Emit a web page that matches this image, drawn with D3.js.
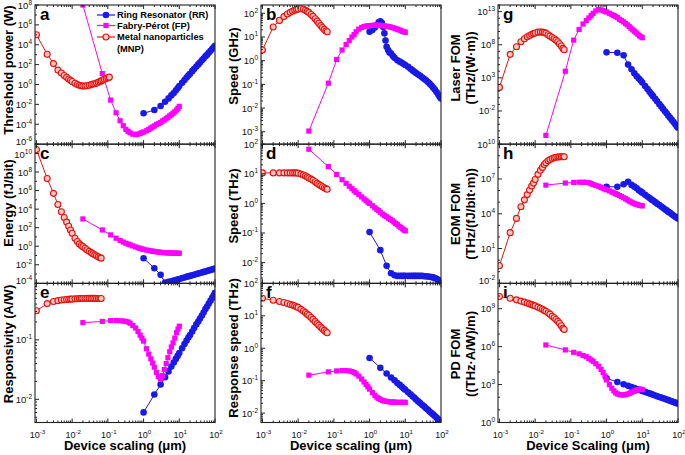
<!DOCTYPE html>
<html><head><meta charset="utf-8">
<script src="https://cdn.jsdelivr.net/npm/d3@7"></script>
<style>
body{margin:0;background:#fff;}
svg{display:block;font-family:Arial,"Liberation Sans",sans-serif;}
</style></head><body>
<svg id="chart" width="685" height="455"></svg>
<script>
// ---------- DATA (y values given as log10 exponents) ----------
const MNP_X = [0.001,0.002,0.003,0.004,0.005,0.006,0.007,0.008,0.009,0.010,0.012,0.014,0.016,0.018,0.020,0.023,0.026,0.030,0.034,0.038,0.043,0.048,0.054,0.060,0.065];
const MNP_X_A = [0.001,0.002,0.003,0.004,0.005,0.006,0.007,0.008,0.009,0.010,0.012,0.014,0.016,0.018,0.020,0.023,0.026,0.030,0.034,0.038,0.043,0.048,0.054,0.060,0.065,0.072,0.080,0.090,0.100,0.110];
const FP_X = [0.02,0.07,0.12,0.17,0.22,0.27,0.32,0.37,0.42,0.5,0.6,0.7,0.8,0.9,1.0,1.2,1.4,1.6,1.8,2.0,2.3,2.6,3.0,3.4,3.8,4.3,4.8,5.4,6.0,6.7,7.5,8.4,9.2,10];
const RR_X = [1,2,3,4,5,6,7,8,9,10,12,14,16,18,20,23,26,30,34,38,43,48,54,60,67,75,84,92,100];
const RR_X_B = [1,1.2,1.4,1.6,1.8,2,2.2,2.4,2.6,2.8,3,3.3,3.6,4,4.5,5,6,7,8,9,10,12,14,16,18,20,23,26,30,34,38,43,48,54,60,67,75,84,92,100];

// a: Threshold power (W)
const a_MNP = [5.0,3.05,2.1,1.45,1.15,0.9,0.72,0.55,0.42,0.3,0.12,0.0,-0.08,-0.13,-0.16,-0.15,-0.12,-0.07,0.0,0.04,0.08,0.14,0.22,0.3,0.36,0.44,0.52,0.6,0.67,0.74];
const a_FP = [8.0,1.1,-1.57,-2.85,-3.65,-4.15,-4.52,-4.72,-4.87,-5.0,-5.05,-5.0,-4.92,-4.85,-4.78,-4.66,-4.52,-4.38,-4.28,-4.17,-4.03,-3.93,-3.82,-3.68,-3.57,-3.43,-3.3,-3.16,-3.05,-2.9,-2.75,-2.57,-2.4,-2.2];
const a_RR = [-2.9,-2.57,-2.17,-1.74,-1.4,-1.1,-0.85,-0.6,-0.38,-0.16,0.17,0.45,0.7,0.9,1.08,1.34,1.55,1.8,2.02,2.21,2.43,2.62,2.83,3.0,3.2,3.39,3.59,3.75,3.9];
// c: Energy (fJ/bit)
const c_MNP = [10.43,7.3,5.7,4.5,3.72,3.1,2.6,2.15,1.75,1.4,0.85,0.5,0.25,0.07,-0.05,-0.22,-0.38,-0.55,-0.69,-0.8,-0.93,-1.04,-1.15,-1.24,-1.29];
const c_FP = [2.94,1.75,1.22,0.86,0.62,0.45,0.32,0.22,0.14,0.03,-0.08,-0.17,-0.24,-0.29,-0.34,-0.41,-0.46,-0.5,-0.54,-0.57,-0.6,-0.63,-0.66,-0.68,-0.7,-0.71,-0.72,-0.73,-0.74,-0.75,-0.75,-0.75,-0.76,-0.76];
const c_RR = [-1.3,-2.37,-3.09,-3.92,-3.85,-3.78,-3.71,-3.65,-3.59,-3.53,-3.44,-3.37,-3.3,-3.25,-3.2,-3.13,-3.07,-3.0,-2.94,-2.89,-2.83,-2.77,-2.72,-2.67,-2.61,-2.56,-2.5,-2.46,-2.42];
// e: Responsivity (A/W)
const e_MNP = [-0.51,-0.39,-0.355,-0.34,-0.33,-0.325,-0.32,-0.317,-0.315,-0.313,-0.31,-0.308,-0.306,-0.305,-0.304,-0.303,-0.302,-0.302,-0.302,-0.302,-0.302,-0.303,-0.303,-0.304,-0.305];
const e_FP = [-0.71,-0.69,-0.675,-0.675,-0.678,-0.682,-0.69,-0.7,-0.72,-0.76,-0.8,-0.86,-0.92,-0.97,-1.02,-1.15,-1.24,-1.32,-1.39,-1.46,-1.55,-1.62,-1.66,-1.6,-1.5,-1.4,-1.3,-1.2,-1.12,-1.05,-0.97,-0.88,-0.82,-0.77];
const e_RR = [-2.22,-1.92,-1.75,-1.63,-1.53,-1.45,-1.38,-1.32,-1.27,-1.22,-1.14,-1.07,-1.01,-0.96,-0.92,-0.86,-0.8,-0.74,-0.69,-0.64,-0.59,-0.54,-0.48,-0.44,-0.39,-0.34,-0.29,-0.25,-0.21];
// b: Speed (GHz)
const b_MNP = [0.45,1.42,1.7,1.86,1.97,2.04,2.09,2.13,2.16,2.18,2.19,2.17,2.13,2.08,2.03,1.95,1.87,1.77,1.67,1.58,1.48,1.4,1.32,1.25,1.22];
const b_FP = [-2.97,-0.95,0.05,0.45,0.68,0.85,1.0,1.1,1.22,1.33,1.4,1.44,1.46,1.47,1.48,1.49,1.5,1.5,1.49,1.49,1.48,1.47,1.45,1.44,1.42,1.4,1.38,1.35,1.33,1.3,1.27,1.24,1.22,1.2];
const b_RR = [1.22,1.3,1.4,1.5,1.62,1.66,1.6,1.42,1.16,0.85,0.59,0.45,0.35,0.3,0.2,0.12,0.02,-0.04,-0.09,-0.14,-0.18,-0.26,-0.34,-0.41,-0.47,-0.52,-0.58,-0.64,-0.71,-0.77,-0.83,-0.9,-0.97,-1.05,-1.13,-1.22,-1.32,-1.43,-1.52,-1.6];
// d: Speed (THz)
const d_MNP = [1.03,1.03,1.03,1.03,1.03,1.03,1.03,1.03,1.03,1.02,0.99,0.96,0.93,0.89,0.86,0.82,0.78,0.73,0.68,0.64,0.6,0.56,0.53,0.5,0.48];
const d_FP = [1.83,1.24,0.98,0.8,0.68,0.58,0.5,0.43,0.37,0.3,0.22,0.15,0.09,0.04,0.0,-0.08,-0.15,-0.2,-0.25,-0.3,-0.36,-0.41,-0.45,-0.5,-0.54,-0.58,-0.63,-0.68,-0.72,-0.77,-0.81,-0.86,-0.9,-0.93];
const d_RR = [-0.97,-1.58,-2.11,-2.36,-2.43,-2.45,-2.45,-2.45,-2.45,-2.45,-2.45,-2.45,-2.45,-2.45,-2.45,-2.45,-2.45,-2.45,-2.46,-2.46,-2.47,-2.48,-2.49,-2.5,-2.52,-2.55,-2.58,-2.62,-2.65];
// f: Response speed (THz)
const f_MNP = [1.54,1.48,1.44,1.41,1.38,1.35,1.33,1.31,1.28,1.26,1.2,1.15,1.1,1.05,1.01,0.95,0.89,0.82,0.76,0.71,0.65,0.6,0.55,0.51,0.48];
const f_FP = [-0.83,-0.73,-0.7,-0.69,-0.69,-0.7,-0.72,-0.75,-0.79,-0.86,-0.95,-1.04,-1.12,-1.19,-1.26,-1.37,-1.45,-1.51,-1.55,-1.58,-1.61,-1.63,-1.64,-1.65,-1.66,-1.66,-1.66,-1.67,-1.67,-1.67,-1.67,-1.67,-1.67,-1.67];
const f_RR = [-0.3,-0.6,-0.78,-0.9,-0.99,-1.07,-1.13,-1.19,-1.24,-1.28,-1.36,-1.42,-1.48,-1.53,-1.58,-1.64,-1.69,-1.75,-1.8,-1.85,-1.9,-1.95,-2.0,-2.04,-2.09,-2.14,-2.19,-2.23,-2.26];
// g: Laser FOM
const g_MNP = [1.56,6.55,7.7,8.45,8.9,9.2,9.4,9.58,9.68,9.78,9.9,9.92,9.9,9.85,9.75,9.5,9.3,9.1,8.9,8.7,8.45,8.15,7.8,7.45,7.25];
const g_FP = [-5.69,4.0,8.7,10.3,11.13,11.65,12.05,12.4,12.74,13.1,13.35,13.25,13.15,13.05,12.95,12.75,12.55,12.4,12.25,12.1,11.85,11.65,11.45,11.2,11.0,10.75,10.5,10.25,10.05,9.8,9.6,9.35,9.2,9.06];
const g_RR = [6.85,6.8,6.4,5.0,4.3,3.68,3.25,2.9,2.6,2.3,1.76,1.3,0.9,0.55,0.24,-0.17,-0.54,-0.97,-1.34,-1.67,-2.03,-2.36,-2.71,-3.02,-3.35,-3.68,-4.02,-4.29,-4.54];
// h: EOM FOM
const h_MNP = [-0.49,2.37,3.6,4.6,5.2,5.65,6.05,6.4,6.65,6.95,7.4,7.75,8.0,8.25,8.4,8.57,8.67,8.76,8.83,8.87,8.9,8.91,8.92,8.92,8.92];
const h_FP = [6.47,6.65,6.7,6.72,6.72,6.71,6.68,6.6,6.52,6.45,6.37,6.28,6.2,6.13,6.07,5.97,5.88,5.8,5.73,5.66,5.57,5.48,5.38,5.29,5.2,5.1,5.02,4.94,4.88,4.82,4.77,4.73,4.7,4.68];
const h_RR = [6.33,6.33,6.55,6.76,6.49,6.34,6.2,6.03,5.93,5.82,5.63,5.49,5.35,5.23,5.14,5.0,4.87,4.75,4.62,4.52,4.39,4.29,4.16,4.08,3.95,3.85,3.74,3.66,3.58];
// i: PD FOM
const i_MNP = [9.96,9.82,9.7,9.6,9.52,9.45,9.38,9.32,9.27,9.22,9.12,9.03,8.95,8.86,8.8,8.68,8.57,8.4,8.28,8.15,8.0,7.85,7.65,7.45,7.35];
const i_FP = [6.13,5.74,5.55,5.43,5.3,5.2,5.06,4.95,4.84,4.65,4.45,4.2,3.95,3.68,3.37,3.0,2.71,2.5,2.35,2.26,2.2,2.18,2.18,2.2,2.24,2.3,2.36,2.43,2.48,2.55,2.6,2.63,2.63,2.6];
const i_RR = [3.5,3.2,3.02,2.9,2.8,2.72,2.65,2.6,2.55,2.5,2.42,2.35,2.3,2.25,2.2,2.14,2.08,2.02,1.97,1.92,1.87,1.82,1.77,1.72,1.67,1.62,1.57,1.53,1.5];

// tick label exponents
const X_TICKS = [-3,-2,-1,0,1,2];
const A_TICKS = [-6,-4,-2,0,2,4,6,8];
const C_TICKS = [-4,-2,0,2,4,6,8,10];
const E_TICKS = [-2,-1];
const B_TICKS = [-3,-2,-1,0,1,2];
const D_TICKS = [-2,-1,0,1,2];
const F_TICKS = [-2,-1,0,1,2];
const G_TICKS = [-2,3,8,13];
const H_TICKS = [-2,1,4,7,10];
const I_TICKS = [0,3,6,9];

const LEGEND = ["Ring Resonator (RR)", "Fabry-Pérot (FP)", "Metal nanoparticles", "(MNP)"];

// ---------- LAYOUT / STYLE ----------
const COLS = [35, 261, 498], COLW = 180;
const ROWS = [5, 144.2, 283.4], ROWH = 139.1;
const X_DOMAIN = [Math.pow(10,-3.04), 100];
const STY = {
  RR: {color:"#1a1ae6", shape:"circle"},
  FP: {color:"#ff00ff", shape:"square"},
  MNP:{color:"#e3120b", shape:"ring"}
};

const panels = [
 {id:"a",col:0,row:0,yd:[-6,8],ticks:A_TICKS,sub:false,lab:["Threshold power (W)"],ly:70,
  s:[["RR",RR_X,a_RR],["FP",FP_X,a_FP],["MNP",MNP_X_A,a_MNP]]},
 {id:"c",col:0,row:1,yd:[-4,11],ticks:C_TICKS,sub:false,lab:["Energy (fJ/bit)"],ly:203,
  s:[["RR",RR_X,c_RR],["FP",FP_X,c_FP],["MNP",MNP_X,c_MNP]]},
 {id:"e",col:0,row:2,yd:[-2.39,-0.05],ticks:E_TICKS,sub:true,lab:["Responsivity (A/W)"],ly:344,
  s:[["RR",RR_X,e_RR],["FP",FP_X,e_FP],["MNP",MNP_X,e_MNP]]},
 {id:"b",col:1,row:0,yd:[-3.52,2.35],ticks:B_TICKS,sub:true,lab:["Speed (GHz)"],ly:66,
  s:[["RR",RR_X_B,b_RR],["FP",FP_X,b_FP],["MNP",MNP_X,b_MNP]]},
 {id:"d",col:1,row:1,yd:[-2.7,2.0],ticks:D_TICKS,sub:true,lab:["Speed (THz)"],ly:206,
  s:[["RR",RR_X,d_RR],["FP",FP_X,d_FP],["MNP",MNP_X,d_MNP]]},
 {id:"f",col:1,row:2,yd:[-2.29,2.0],ticks:F_TICKS,sub:true,lab:["Response speed (THz)"],ly:348,
  s:[["RR",RR_X,f_RR],["FP",FP_X,f_FP],["MNP",MNP_X,f_MNP]]},
 {id:"g",col:2,row:0,yd:[-7,14],ticks:G_TICKS,sub:false,lab:["Laser FOM","(THz/(W·m))"],ly:68,
  s:[["RR",RR_X,g_RR],["FP",FP_X,g_FP],["MNP",MNP_X,g_MNP]]},
 {id:"h",col:2,row:1,yd:[-2,10],ticks:H_TICKS,sub:false,lab:["EOM FOM","(THz/(fJ/bit·m))"],ly:214,
  s:[["RR",RR_X,h_RR],["FP",FP_X,h_FP],["MNP",MNP_X,h_MNP]]},
 {id:"i",col:2,row:2,yd:[0,11],ticks:I_TICKS,sub:false,lab:["PD FOM","((THz·A/W)/m)"],ly:354,
  s:[["RR",RR_X,i_RR],["FP",FP_X,i_FP],["MNP",MNP_X,i_MNP]]}
];

const svg = d3.select("#chart");
const defs = svg.append("defs");

function drawMarker(sel, type, cx, cy) {
  const st = STY[type];
  if (st.shape === "square") {
    sel.append("rect").attr("x",cx-2.6).attr("y",cy-2.6).attr("width",5.2).attr("height",5.2).attr("fill",st.color);
  } else if (st.shape === "circle") {
    sel.append("circle").attr("cx",cx).attr("cy",cy).attr("r",3.3).attr("fill",st.color);
  } else {
    sel.append("circle").attr("cx",cx).attr("cy",cy).attr("r",3.0).attr("fill","#ffc4c4").attr("stroke",st.color).attr("stroke-width",1.1);
  }
}

function sup(textSel, base, exp, fs) {
  textSel.append("tspan").text(base);
  textSel.append("tspan").attr("dy",-4).attr("font-size",fs).text(exp);
}

panels.forEach(p => {
  const x0 = COLS[p.col], y0 = ROWS[p.row];
  const x = d3.scaleLog().domain(X_DOMAIN).range([x0, x0+COLW]);
  const y = d3.scaleLog().domain([Math.pow(10,p.yd[0]), Math.pow(10,p.yd[1])]).range([y0+ROWH, y0]);
  const cid = "clip-" + p.id;
  defs.append("clipPath").attr("id",cid).append("rect").attr("x",x0).attr("y",y0).attr("width",COLW).attr("height",ROWH);
  const g = svg.append("g");
  const plot = g.append("g").attr("clip-path",`url(#${cid})`);

  p.s.forEach(([type, xs, ys]) => {
    const pts = xs.map((xv,i)=>[x(xv), y(Math.pow(10, ys[i]))]);
    const col = STY[type].color;
    plot.append("path").attr("d", d3.line()(pts)).attr("fill","none").attr("stroke",col).attr("stroke-width",1);
    const mg = plot.append("g");
    pts.forEach(([cx,cy]) => drawMarker(mg, type, cx, cy));
  });

  // frame
  g.append("rect").attr("x",x0).attr("y",y0).attr("width",COLW).attr("height",ROWH)
    .attr("fill","none").attr("stroke","#222").attr("stroke-width",1.1);

  // x ticks (bottom & top, inward)
  const tk = g.append("g").attr("stroke","#222").attr("stroke-width",1);
  for (let d=-3; d<=2; d++) {
    for (let m=1; m<=9; m++) {
      const v = m*Math.pow(10,d);
      if (v < X_DOMAIN[0] || v > X_DOMAIN[1]*1.0001) continue;
      const len = m===1 ? 4 : 2;
      const px = x(v);
      tk.append("line").attr("x1",px).attr("x2",px).attr("y1",y0+ROWH).attr("y2",y0+ROWH-len);
      tk.append("line").attr("x1",px).attr("x2",px).attr("y1",y0).attr("y2",y0+len);
      if (d===2) break;
    }
  }
  // y ticks (left, inward)
  for (let d=Math.floor(p.yd[0]); d<=Math.ceil(p.yd[1]); d++) {
    const ms = p.sub ? [1,2,3,4,5,6,7,8,9] : [1];
    ms.forEach(m => {
      const lv = d + Math.log10(m);
      if (lv < p.yd[0]-1e-6 || lv > p.yd[1]+1e-6) return;
      const py = y(Math.pow(10,lv));
      const len = (m===1 && p.ticks.includes(d)) ? 4 : 2;
      tk.append("line").attr("x1",x0).attr("x2",x0+len).attr("y1",py).attr("y2",py);
    });
  }
  // y tick labels (nudged inward when they sit right at a panel edge)
  p.ticks.forEach(e => {
    const py = y(Math.pow(10,e));
    let nudge = 0;
    if (y0 + ROWH - py < 4 && p.row < 2) nudge = -2.5;
    if (py - y0 < 12 && py - y0 > 4 && p.row > 0) nudge = 1.5;
    const t = g.append("text").attr("x",x0-3).attr("y",py+3.5+nudge)
      .attr("text-anchor","end").attr("font-size",9.5).attr("fill","#111");
    sup(t, "10", String(e), 6.5);
  });
  // x tick labels on bottom row
  if (p.row === 2) {
    X_TICKS.forEach(e => {
      const t = g.append("text").attr("x",x(Math.pow(10,e))+1).attr("y",y0+ROWH+15)
        .attr("text-anchor","middle").attr("font-size",9).attr("fill","#111");
      sup(t, "10", String(e), 6.2);
    });
    g.append("text").attr("x",x0+COLW/2).attr("y",450).attr("text-anchor","middle")
      .attr("font-size",13).attr("font-weight","bold")
      .text(p.col===2 ? "Device Scaling (μm)" : "Device scaling (μm)");
  }
  // panel letter
  g.append("text").attr("x",x0+5).attr("y",y0+15).attr("font-size",17).attr("font-weight","bold").text(p.id);
  // y label
  const bx = p.col===0 ? [13] : p.col===1 ? [238] : [460, 475];
  p.lab.forEach((L,k) => {
    g.append("text").attr("transform",`translate(${bx[k]},${p.ly}) rotate(-90)`)
      .attr("text-anchor","middle").attr("font-size",13).attr("font-weight","bold").text(L);
  });
});

// legend in panel a
const lg = svg.append("g");
const legRows = [["RR",15,[LEGEND[0]]],["FP",25.5,[LEGEND[1]]],["MNP",37,[LEGEND[2],LEGEND[3]]]];
legRows.forEach(([type, ly, texts]) => {
  lg.append("line").attr("x1",97).attr("x2",115).attr("y1",ly).attr("y2",ly).attr("stroke",STY[type].color).attr("stroke-width",1.2);
  drawMarker(lg, type, 106, ly);
  texts.forEach((t,k) => {
    lg.append("text").attr("x",117).attr("y",ly+3.4+k*11.5).attr("font-size",9.3).attr("font-weight","bold").text(t);
  });
});
</script>
</body></html>
